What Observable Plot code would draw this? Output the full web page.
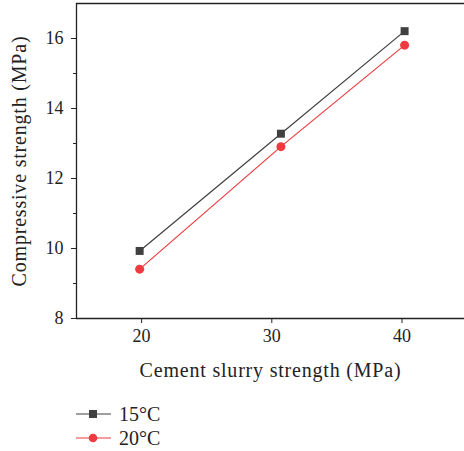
<!DOCTYPE html>
<html>
<head>
<meta charset="utf-8">
<script src="https://cdn.jsdelivr.net/npm/d3@7"></script>
<script src="https://cdn.jsdelivr.net/npm/@observablehq/plot@0.6"></script>
<style>
  html, body { margin: 0; padding: 0; background: #fff; overflow: hidden; }
  #chart { width: 464px; }
  .legend { font-family: "Liberation Serif", serif; font-size: 20px; color: #222; margin-left: 76px; }
  .legend .row { display: flex; align-items: center; height: 24px; }
  .legend svg { margin-right: 8px; }
</style>
</head>
<body>
<div id="chart"></div>
<script>
const series = ["15°C", "20°C"];
const slurryStrength = [19.85, 30.7, 40.2];
const strength15 = [9.93, 13.28, 16.21];
const strength20 = [9.41, 12.91, 15.81];
const colors = ["#404040", "#ee3b3f"];
const symbols = ["square", "circle"];
const yMajorTicks = [8, 10, 12, 14, 16];
const yMinorTicks = [9, 11, 13, 15];
const xTicks = [20, 30, 40];

const data = [
  ...slurryStrength.map((x, i) => ({series: series[0], x, y: strength15[i]})),
  ...slurryStrength.map((x, i) => ({series: series[1], x, y: strength20[i]}))
];

const font = "Liberation Serif, serif";
const plot = Plot.plot({
  width: 464,
  height: 390,
  marginLeft: 76,
  marginRight: 0,
  marginTop: 3,
  marginBottom: 72,
  style: {fontFamily: font, fontSize: "18px", color: "#222", background: "#fff"},
  x: {domain: [15, 44.8]},
  y: {domain: [8, 17]},
  color: {domain: series, range: colors},
  symbol: {domain: series, range: symbols},
  marks: [
    Plot.axisY({ticks: yMajorTicks, tickSize: 5, tickPadding: 8, label: "Compressive strength (MPa)", labelAnchor: "center", labelArrow: "none", labelOffset: 65, fontSize: 18}),
    Plot.axisY({ticks: yMinorTicks, tickSize: 3, tickFormat: () => "", label: null}),
    Plot.axisX({ticks: xTicks, tickSize: 5, tickPadding: 6, label: "Cement slurry strength (MPa)", labelAnchor: "center", labelArrow: "none", labelOffset: 58, fontSize: 18}),
    Plot.ruleY([8], {stroke: "#222", strokeWidth: 1.3}),
    Plot.ruleY([17], {stroke: "#222", strokeWidth: 1.3}),
    Plot.ruleX([15], {stroke: "#222", strokeWidth: 1.3}),
    Plot.line(data, {x: "x", y: "y", z: "series", stroke: "series", strokeWidth: 1.2}),
    Plot.dot(data, {x: "x", y: "y", symbol: "series", fill: "series", r: 4.5, stroke: "none"})
  ]
});
d3.select(plot).selectAll('g[aria-label$="axis label"] text')
  .style("font-size", "20px")
  .style("letter-spacing", "0.8px");
document.getElementById("chart").appendChild(plot);

const legend = document.createElement("div");
legend.className = "legend";
series.forEach((s, i) => {
  const row = document.createElement("div");
  row.className = "row";
  const sym = symbols[i] === "square"
    ? `<rect x="13" y="4" width="8" height="8" fill="${colors[i]}"/>`
    : `<circle cx="17" cy="8" r="4.3" fill="${colors[i]}"/>`;
  row.innerHTML = `<svg width="35" height="16"><line x1="0" x2="35" y1="8" y2="8" stroke="${colors[i]}" stroke-width="1.2"/>${sym}</svg><span>${s}</span>`;
  legend.appendChild(row);
});
legend.style.marginTop = "12px";
document.getElementById("chart").appendChild(legend);
</script>
</body>
</html>
